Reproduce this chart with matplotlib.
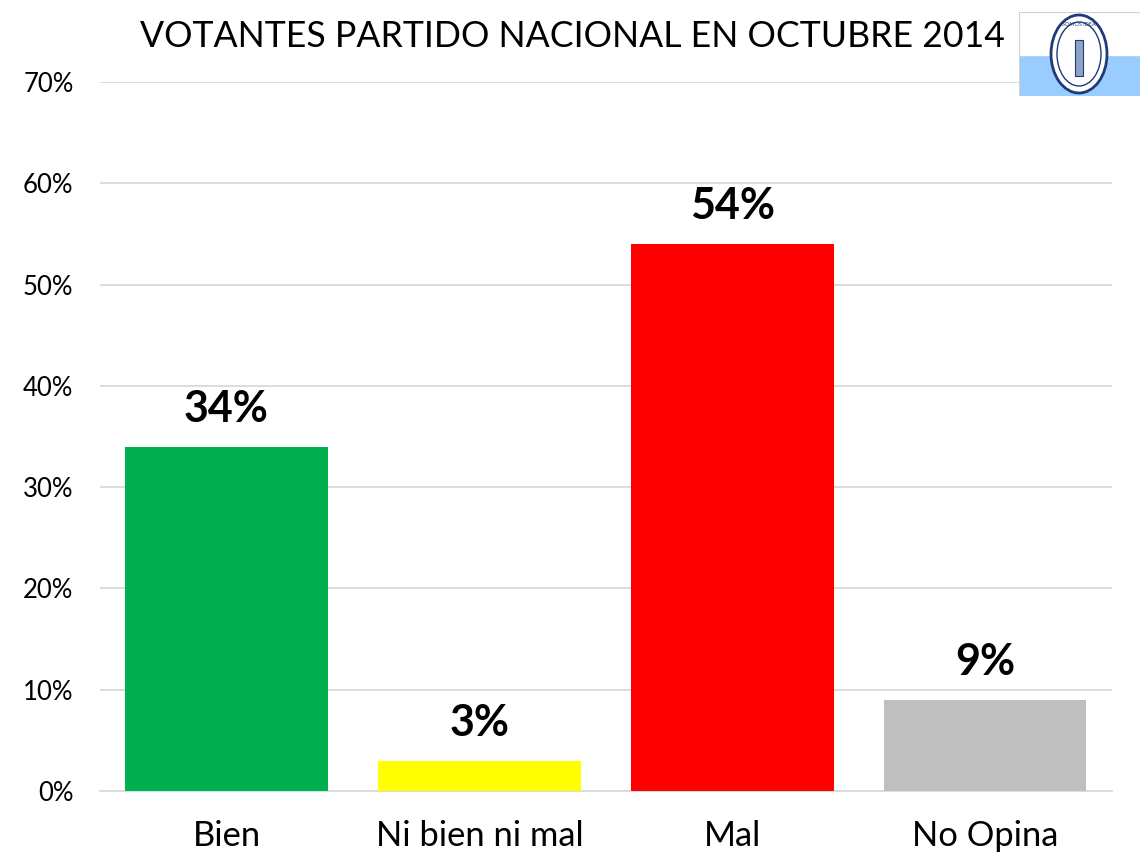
import matplotlib
matplotlib.use("Agg")
import matplotlib.pyplot as plt
from matplotlib.patches import Rectangle, Ellipse

categories = ["Bien", "Ni bien ni mal", "Mal", "No Opina"]
values = [34, 3, 54, 9]
colors = ["#00B050", "#FFFF00", "#FF0000", "#BFBFBF"]
yticks = [0, 10, 20, 30, 40, 50, 60, 70]
title = "VOTANTES PARTIDO NACIONAL EN OCTUBRE 2014"

plt.rcParams['font.family'] = ['Lato', 'DejaVu Sans']

fig = plt.figure(figsize=(11.45, 8.59), dpi=100)
ax = fig.add_axes([0.0873, 0.0792, 0.8837, 0.8253])
x = range(len(categories))
ax.bar(x, values, width=0.8, color=colors, zorder=3)
ax.set_xlim(-0.5, 3.5)
ax.set_ylim(0, 70)
ax.set_yticks(yticks)
ax.set_yticklabels([f"{t}%" for t in yticks], fontsize=18.5)
ax.set_xticks(list(x))
ax.set_xticklabels(categories, fontsize=24.8)
ax.tick_params(axis='both', length=0)
ax.tick_params(axis='x', pad=21)
ax.tick_params(axis='y', pad=19)
ax.grid(axis='y', color='#D9D9D9', linewidth=1.3, zorder=0)
for s in ['top', 'right', 'left']:
    ax.spines[s].set_visible(False)
ax.spines['bottom'].set_color('#D9D9D9')
ax.spines['bottom'].set_linewidth(1.3)
for i, v in enumerate(values):
    ax.annotate(f"{v}%", (i, v), xytext=(0, 13), textcoords='offset points',
                ha='center', va='bottom', fontsize=31, fontweight='bold')

fig.text(0.500, 0.977, title, ha='center', va='top', fontsize=25.7)

# logo
lax = fig.add_axes([1019/1145, 1 - 96/859, 121/1145, 84/859])
lax.set_xlim(0, 121)
lax.set_ylim(0, 84)
lax.axis('off')
lax.add_patch(Rectangle((0, 0), 121, 41, color='#99CCFF'))
lax.add_patch(Rectangle((0, 41), 121, 43, color='white'))
lax.add_patch(Rectangle((0, 0), 121, 84, fill=False, edgecolor='#D0D0D0', linewidth=0.8))
lax.add_patch(Ellipse((60, 42), 56, 78, facecolor='white', edgecolor='#1F3A7A', linewidth=2))
lax.add_patch(Ellipse((60, 42), 44, 64, facecolor='white', edgecolor='#1F3A7A', linewidth=1))
lax.add_patch(Rectangle((56, 20), 8, 36, facecolor='#8FA3C8', edgecolor='#1F3A7A', linewidth=0.8))
lax.text(60, 72, "SOMOS IDEA", ha='center', va='center', fontsize=4, color='#1F3A7A')

fig.savefig("out.png", dpi=100)
